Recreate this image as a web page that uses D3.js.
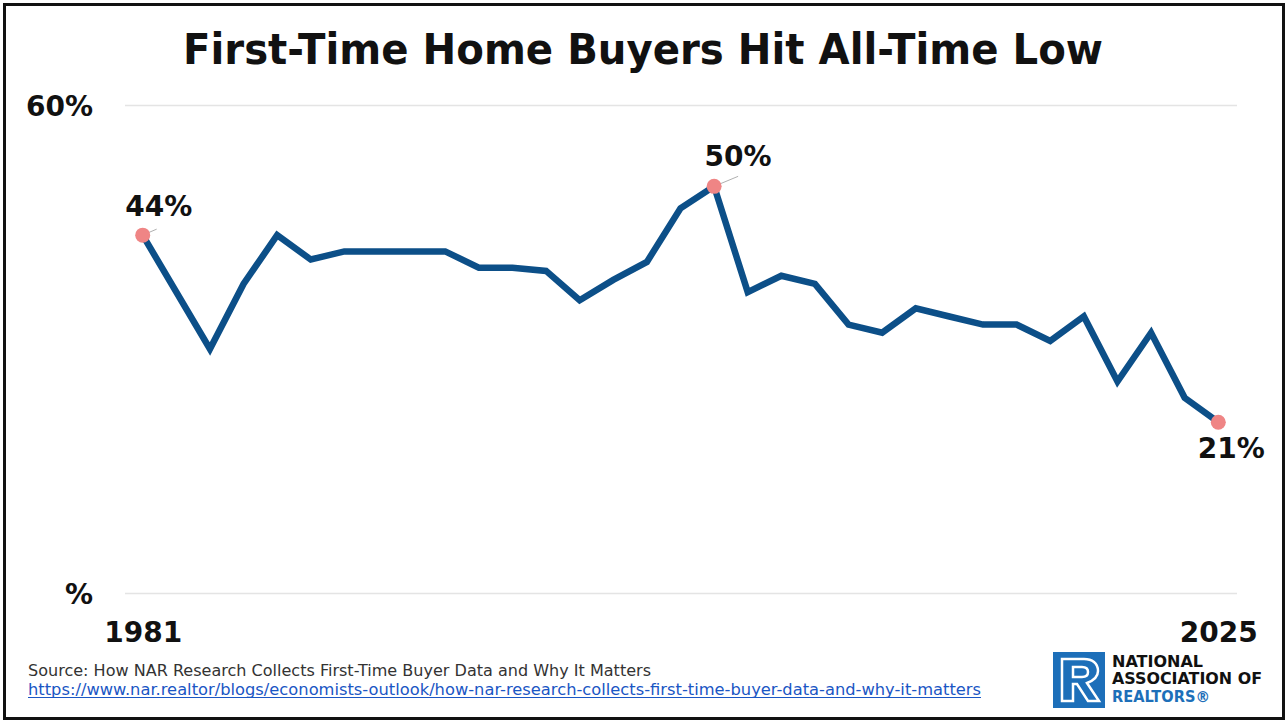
<!DOCTYPE html>
<html>
<head>
<meta charset="utf-8">
<script src="https://cdn.jsdelivr.net/npm/d3@7"></script>
<style>
  html, body { margin: 0; padding: 0; background: #fff; }
  svg { display: block; }
  text { font-family: "DejaVu Sans", "Noto Sans", sans-serif; }
</style>
</head>
<body>
<script>
// Survey years (one slot per survey; 1983 had no survey value)
const years = [
  1981, 1983, 1985, 1987, 1989, 1991, 1993, 1995, 1997, 2001,
  2003, 2004, 2005, 2006, 2007, 2008, 2009, 2010, 2011, 2012,
  2013, 2014, 2015, 2016, 2017, 2018, 2019, 2020, 2021, 2022,
  2023, 2024, 2025
];
// Share of home purchases made by first-time buyers (%)
const shares = [
  44, null, 30, 38, 44, 41, 42, 42, 42, 42,
  40, 40, 39.6, 36, 38.5, 40.7, 47.3, 50, 37, 39,
  38, 33, 32, 35, 34, 33, 33, 31, 34, 26,
  32, 24, 21
];
// Highlighted points and their labels
const callouts = [
  { year: 1981, label: "44%" },
  { year: 2010, label: "50%" },
  { year: 2025, label: "21%" }
];
const yTickValues = [0, 60];
const yTickLabels = ["%", "60%"];
const xEndLabels = ["1981", "2025"];

const W = 1287, H = 722;
const svg = d3.select("body").append("svg").attr("width", W).attr("height", H);

// Outer frame
svg.append("rect")
  .attr("x", 4.5).attr("y", 4.5).attr("width", W - 8).attr("height", H - 8)
  .attr("fill", "#fff").attr("stroke", "#111").attr("stroke-width", 3);

// Title
svg.append("text")
  .attr("x", 643).attr("y", 64)
  .attr("text-anchor", "middle")
  .attr("font-size", 42).attr("font-weight", 700).attr("fill", "#111")
  .attr("textLength", 920).attr("lengthAdjust", "spacingAndGlyphs")
  .text("First-Time Home Buyers Hit All-Time Low");

const x = d3.scalePoint().domain(years).range([142.7, 1218.3]);
const y = d3.scaleLinear().domain([0, 60]).range([593, 105]);

// Gridlines + y labels
const yAxis = d3.axisLeft(y).tickValues(yTickValues)
  .tickSize(-(1237 - 125))
  .tickFormat((d, i) => yTickLabels[i]);
const gy = svg.append("g").attr("transform", "translate(125,0)").call(yAxis);
gy.select(".domain").remove();
gy.selectAll(".tick line").attr("stroke", "#e4e4e4").attr("stroke-width", 1.5);
gy.selectAll(".tick text")
  .attr("x", -32).attr("dy", "0.36em")
  .attr("font-size", 28).attr("font-weight", 700).attr("fill", "#111")
  .attr("font-family", "'DejaVu Sans', sans-serif");

// Year labels at the ends of the x range
const xAxis = d3.axisBottom(x).tickValues([years[0], years[years.length - 1]])
  .tickSize(0).tickFormat((d, i) => xEndLabels[i]);
const gx = svg.append("g").attr("transform", "translate(0,622)").call(xAxis);
gx.select(".domain").remove();
gx.selectAll(".tick text")
  .attr("dy", "0.71em").attr("y", 0)
  .attr("font-size", 28).attr("font-weight", 700).attr("fill", "#111")
  .attr("font-family", "'DejaVu Sans', sans-serif");

// Series line (missing survey slot is bridged)
const pts = years.map((yr, i) => ({ year: yr, v: shares[i] })).filter(d => d.v != null);
const line = d3.line().x(d => x(d.year)).y(d => y(d.v)).curve(d3.curveLinear);
svg.append("path")
  .datum(pts)
  .attr("d", line)
  .attr("fill", "none")
  .attr("stroke", "#0c4f88")
  .attr("stroke-width", 6.5)
  .attr("stroke-linejoin", "miter")
  .attr("stroke-linecap", "butt");

// Callout dots, leader lines and labels
const lookup = new Map(pts.map(d => [d.year, d.v]));
const calloutLayout = {
  1981: { lead: [14, -6], dx: 16, dy: -19, anchor: "middle" },
  2010: { lead: [24, -10], dx: 24, dy: -20, anchor: "middle" },
  2025: { lead: null, dx: 13, dy: 36, anchor: "middle" }
};
callouts.forEach(c => {
  const cx = x(c.year), cy = y(lookup.get(c.year));
  const L = calloutLayout[c.year];
  if (L.lead) {
    svg.append("line")
      .attr("x1", cx).attr("y1", cy)
      .attr("x2", cx + L.lead[0]).attr("y2", cy + L.lead[1])
      .attr("stroke", "#b0b0b0").attr("stroke-width", 1);
  }
  svg.append("circle").attr("cx", cx).attr("cy", cy).attr("r", 7.5).attr("fill", "#ef8585");
  svg.append("text")
    .attr("x", cx + L.dx).attr("y", cy + L.dy)
    .attr("text-anchor", L.anchor)
    .attr("font-size", 28).attr("font-weight", 700).attr("fill", "#111")
    .text(c.label);
});

// Source note
svg.append("text")
  .attr("x", 28).attr("y", 676)
  .attr("font-size", 15).attr("fill", "#333")
  .attr("textLength", 623).attr("lengthAdjust", "spacingAndGlyphs")
  .text("Source: How NAR Research Collects First-Time Buyer Data and Why It Matters");
svg.append("text")
  .attr("x", 28).attr("y", 695)
  .attr("font-size", 15).attr("fill", "#1a56c4")
  .attr("textLength", 953).attr("lengthAdjust", "spacingAndGlyphs")
  .text("https://www.nar.realtor/blogs/economists-outlook/how-nar-research-collects-first-time-buyer-data-and-why-it-matters");
svg.append("line")
  .attr("x1", 28).attr("x2", 981).attr("y1", 697.5).attr("y2", 697.5)
  .attr("stroke", "#1a56c4").attr("stroke-width", 1);

// Association mark
const logo = svg.append("g").attr("transform", "translate(1053,652)");
logo.append("rect").attr("width", 52).attr("height", 56).attr("fill", "#1d6fb9");
logo.append("path")
  .attr("d", "M9,7 L9,49 L20,49 L20,32 L24,32 L35,49 L46,49 L34,31 C42,28 45,23 45,19 C45,11 39,7 31,7 Z")
  .attr("fill", "none").attr("stroke", "#fff").attr("stroke-width", 2.5).attr("stroke-linejoin", "miter");
logo.append("path")
  .attr("d", "M20,15 L29,15 C33,15 35,17 35,20 C35,23 33,25 29,25 L20,25 Z")
  .attr("fill", "none").attr("stroke", "#fff").attr("stroke-width", 2.5);

const logoText = [
  { t: "NATIONAL", y: 667, w: 91, c: "#111" },
  { t: "ASSOCIATION OF", y: 684, w: 150, c: "#111" },
  { t: "REALTORS®", y: 702, w: 98, c: "#1d6fb9" }
];
logoText.forEach(d => {
  svg.append("text")
    .attr("x", 1112).attr("y", d.y)
    .attr("font-size", 16).attr("font-weight", 700).attr("fill", d.c)
    .attr("textLength", d.w).attr("lengthAdjust", "spacingAndGlyphs")
    .text(d.t);
});
</script>
</body>
</html>
